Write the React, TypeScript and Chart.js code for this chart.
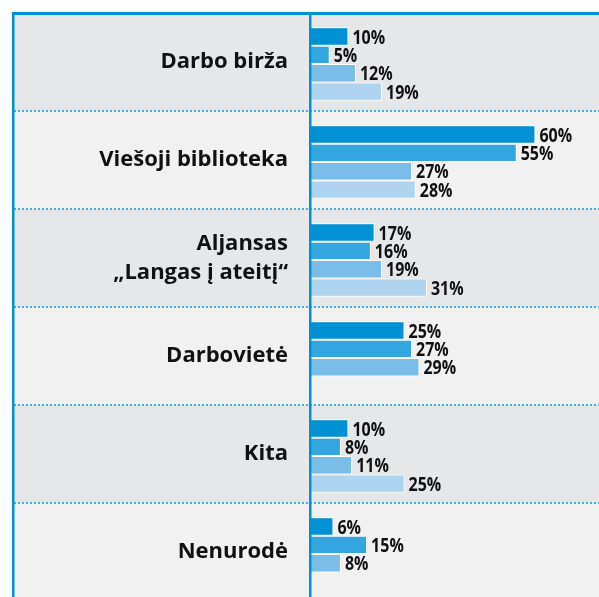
import React, { useEffect, useRef } from "react";
import { Chart, registerables } from "chart.js";

Chart.register(...registerables);

const categories: (string | string[])[] = [
  "Darbo birža",
  "Viešoji biblioteka",
  ["Aljansas", "„Langas į ateitį“"],
  "Darbovietė",
  "Kita",
  "Nenurodė",
];
const series1: (number | null)[] = [10, 60, 17, 25, 10, 6];
const series2: (number | null)[] = [5, 55, 16, 27, 8, 15];
const series3: (number | null)[] = [12, 27, 19, 29, 11, 8];
const series4: (number | null)[] = [19, 28, 31, null, 25, null];
const seriesColors = ["#0091d5", "#33a6df", "#7abde8", "#aed4f0"];

const W = 599;
const H = 605;
const LEFT = 12;
const TOP = 13;
const BLUE = "#0091d5";
const SHIFT = 2;

const bgPlugin = {
  id: "bgPlugin",
  beforeDraw(chart: any) {
    const { ctx, chartArea } = chart;
    const y = chart.scales.y;
    const n = categories.length;
    const half = (chartArea.bottom - chartArea.top) / n / 2;
    ctx.save();
    for (let i = 0; i < n; i++) {
      const c = y.getPixelForValue(i);
      ctx.fillStyle = i % 2 === 0 ? "#e6e7e8" : "#f1f1f1";
      ctx.fillRect(LEFT, c - half, W - LEFT, half * 2);
    }
    ctx.strokeStyle = "#45ade2";
    ctx.lineWidth = 2;
    ctx.setLineDash([2, 2]);
    for (let i = 1; i < n; i++) {
      const b = Math.round(y.getPixelForValue(i) - half);
      ctx.beginPath();
      ctx.moveTo(LEFT + 2, b);
      ctx.lineTo(W, b);
      ctx.stroke();
    }
    ctx.setLineDash([]);
    ctx.fillStyle = BLUE;
    ctx.fillRect(LEFT, TOP - 1, W - LEFT, 3);
    ctx.fillRect(LEFT, TOP - 1, 2.5, H);
    ctx.restore();
  },
  beforeDatasetsDraw(chart: any) {
    chart.ctx.save();
    chart.ctx.translate(0, SHIFT);
  },
  afterDatasetsDraw(chart: any) {
    const { ctx, chartArea } = chart;
    ctx.restore();
    ctx.save();
    ctx.fillStyle = BLUE;
    ctx.fillRect(chartArea.left - 2, TOP, 2.5, H);
    ctx.font = "bold 20px 'Open Sans'";
    ctx.fillStyle = "#111";
    ctx.textBaseline = "middle";
    ctx.textAlign = "left";
    chart.data.datasets.forEach((ds: any, di: number) => {
      const meta = chart.getDatasetMeta(di);
      meta.data.forEach((el: any, i: number) => {
        const v = ds.data[i];
        if (v === null || v === undefined) return;
        ctx.save();
        ctx.translate(el.x + 4, el.y + SHIFT + 1.5);
        ctx.scale(0.8, 1);
        ctx.fillText(`${v}%`, 0, 0);
        ctx.restore();
      });
    });
    ctx.restore();
  },
};

export default function App() {
  const ref = useRef<HTMLCanvasElement | null>(null);
  useEffect(() => {
    if (!ref.current) return;
    const all = [series1, series2, series3, series4];
    const chart = new Chart(ref.current, {
      type: "bar",
      data: {
        labels: categories as any,
        datasets: all.map((d, i) => ({
          label: `S${i + 1}`,
          data: d,
          backgroundColor: seriesColors[i],
          borderColor: "#ffffff",
          borderWidth: 1,
          categoryPercentage: 0.75,
          barPercentage: 1,
        })),
      },
      options: {
        indexAxis: "y",
        responsive: false,
        animation: false,
        layout: { padding: { left: LEFT, top: TOP, right: 0, bottom: H - 601 } },
        plugins: { legend: { display: false }, tooltip: { enabled: false } },
        scales: {
          x: { display: false, min: 0, max: 77 },
          y: {
            grid: { display: false, drawTicks: false },
            border: { display: false },
            ticks: {
              color: "#111",
              padding: 23,
              font: { family: "'Open Sans'", weight: "bold", size: 22, lineHeight: 1.3 },
            },
            afterFit(scale: any) {
              scale.width = 299;
              scale.paddingTop = 0;
              scale.paddingBottom = 0;
            },
          },
        },
      } as any,
      plugins: [bgPlugin],
    });
    return () => chart.destroy();
  }, []);
  return (
    <div style={{ position: "fixed", left: 0, top: 0, width: 599, height: 597, overflow: "hidden", background: "#fff" }}>
      <canvas ref={ref} width={W} height={H} style={{ display: "block", width: W, height: H }} />
    </div>
  );
}
